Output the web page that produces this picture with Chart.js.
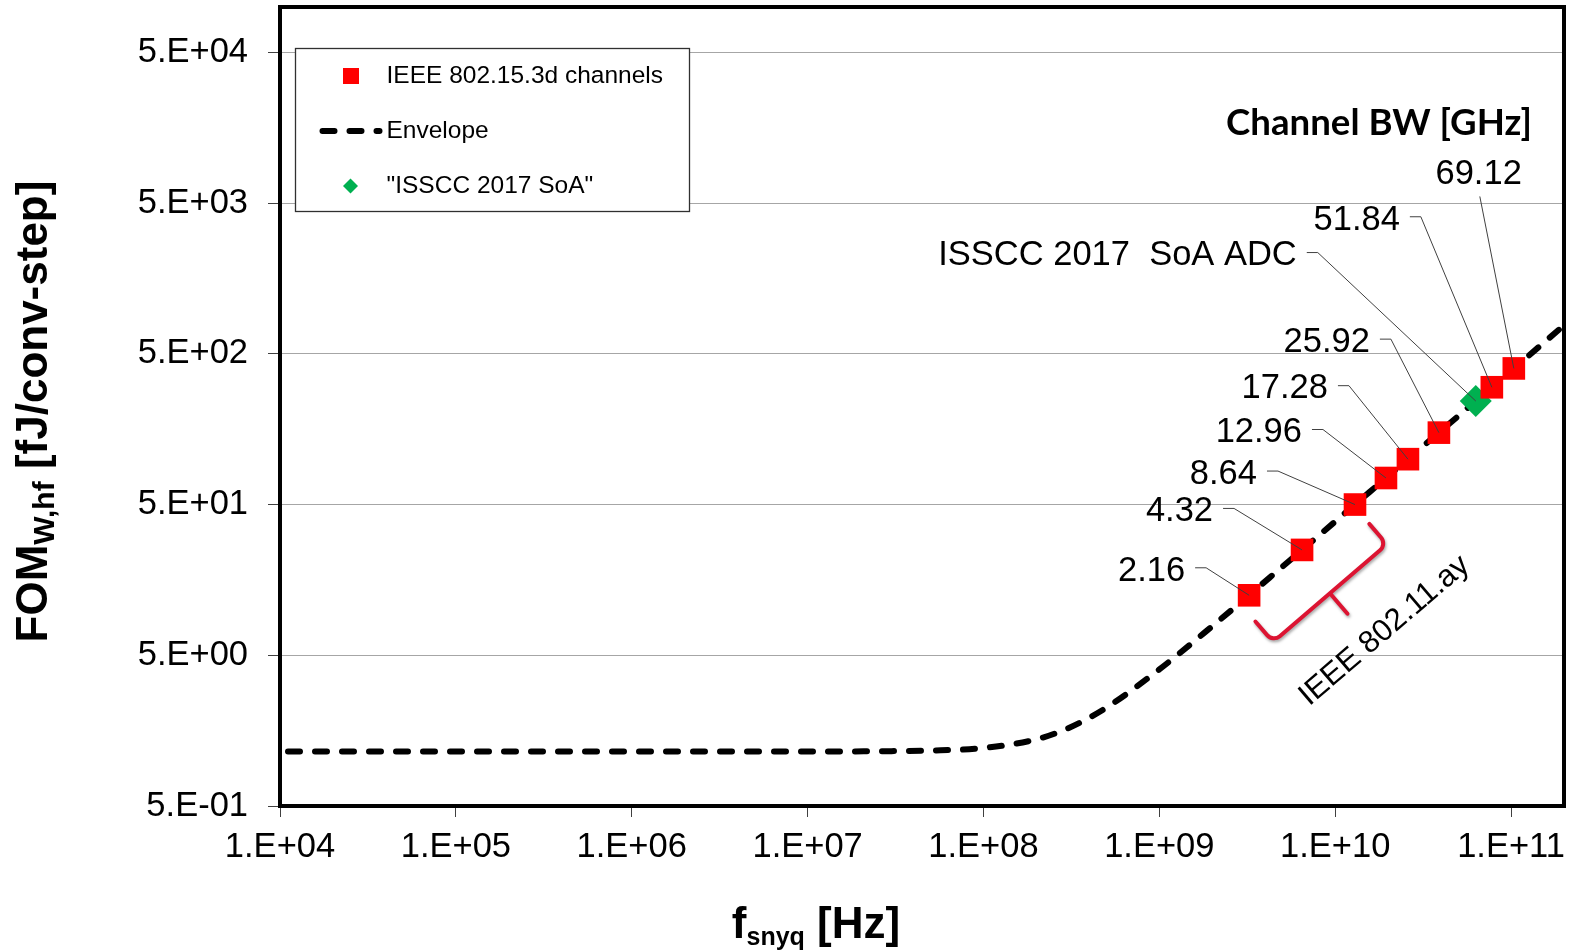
<!DOCTYPE html>
<html>
<head>
<meta charset="utf-8">
<script src="https://cdn.jsdelivr.net/npm/chart.js@4.4.1/dist/chart.umd.min.js"></script>
<style>
  html, body { margin: 0; padding: 0; background: #ffffff; }
  canvas { display: block; }
</style>
</head>
<body>
<canvas id="fom" width="1571" height="951" style="width:1571px;height:951px"></canvas>
<script>
// Envelope of the ADC figure of merit versus Nyquist frequency
const envelopeFreq = [1e4, 1e7, 3e7, 5e7, 1e8, 2e8, 3e8, 5e8, 1e9, 2e9, 5e9, 1e10, 2e10, 5e10, 1e11, 2e11];
const envelopeFom  = [1.15, 1.15, 1.156, 1.166, 1.213, 1.385, 1.632, 2.246, 4.03, 7.8, 19.3, 38.6, 77.2, 193, 386, 772];

// IEEE 802.15.3d channels (label = channel bandwidth in GHz)
const channelBW   = ['2.16', '4.32', '8.64', '12.96', '17.28', '25.92', '51.84', '69.12'];
const channelFreq = [3.24e9, 6.48e9, 1.296e10, 1.944e10, 2.592e10, 3.888e10, 7.776e10, 1.0368e11];
const channelFom  = [12.5, 25, 50, 75, 100, 150, 300, 400];

// ISSCC 2017 state-of-the-art ADC
const soaFreq = [6.3e10];
const soaFom  = [243];

// Axis ticks
const xTickValues = [1e4, 1e5, 1e6, 1e7, 1e8, 1e9, 1e10, 1e11];
const xTickLabels = ['1.E+04', '1.E+05', '1.E+06', '1.E+07', '1.E+08', '1.E+09', '1.E+10', '1.E+11'];
const yTickValues = [0.5, 5, 50, 500, 5000, 50000];
const yTickLabels = ['5.E-01', '5.E+00', '5.E+01', '5.E+02', '5.E+03', '5.E+04'];

// Callout placement in pixels relative to each marker:
// t = right end / vertical centre of the text, l = optional free leader start
const channelCallouts = [
  { t: [-64, -27] }, { t: [-89, -41] }, { t: [-98, -33] }, { t: [-84, -48] },
  { t: [-80, -73] }, { t: [-69, -93] }, { t: [-92, -170] }, { t: [8, -197], l: [-34, -172] }
];
const soaCallout = { t: [-179, -148] };

const FONT = '"Liberation Sans", Arial, Helvetica, sans-serif';
const LABEL_SIZE = 34.5;
const ENVELOPE_DASH = [12, 15];

function textRightAt(ctx, text, xr, cy, size) {
  ctx.font = size + 'px ' + FONT;
  ctx.textAlign = 'right';
  ctx.textBaseline = 'alphabetic';
  ctx.fillText(text, xr, cy + size * 0.355);
}

function drawCallout(ctx, px, py, text, c) {
  const xr = px + c.t[0], cy = py + c.t[1];
  ctx.fillStyle = '#000';
  textRightAt(ctx, text, xr, cy, LABEL_SIZE);
  ctx.strokeStyle = '#404040';
  ctx.lineWidth = 1;
  ctx.beginPath();
  if (c.l) {
    ctx.moveTo(px + c.l[0], py + c.l[1]);
  } else {
    ctx.moveTo(xr + 10, cy - 0.5);
    ctx.lineTo(xr + 21, cy - 0.5);
  }
  ctx.lineTo(px, py);
  ctx.stroke();
}

// Mixed-size title pieces: [text, size, baselineShift]
function drawPieces(ctx, pieces, startX, baseY) {
  let xPos = startX;
  ctx.textAlign = 'left';
  ctx.textBaseline = 'alphabetic';
  for (const [t, s, dy] of pieces) {
    ctx.font = 'bold ' + s + 'px ' + FONT;
    ctx.fillText(t, xPos, baseY + dy);
    xPos += ctx.measureText(t).width;
  }
}
function piecesWidth(ctx, pieces) {
  let w = 0;
  for (const [t, s] of pieces) {
    ctx.font = 'bold ' + s + 'px ' + FONT;
    w += ctx.measureText(t).width;
  }
  return w;
}

function noScalePadding(s) {
  s.paddingTop = 0; s.paddingBottom = 0; s.paddingLeft = 0; s.paddingRight = 0;
}

const overlay = {
  id: 'overlay',
  afterDatasetsDraw(chart) {
    const { ctx, scales: { x, y }, chartArea: a } = chart;
    ctx.save();

    // Brace grouping the IEEE 802.11ay channels
    const p0 = { x: x.getPixelForValue(channelFreq[0]), y: y.getPixelForValue(channelFom[0]) };
    const p2 = { x: x.getPixelForValue(channelFreq[2]), y: y.getPixelForValue(channelFom[2]) };
    const dx = p2.x - p0.x, dy = p2.y - p0.y, len = Math.hypot(dx, dy);
    const ux = dx / len, uy = dy / len, nx = -uy, ny = ux;
    const mx = (p0.x + p2.x) / 2 + nx * 51 - ux * 7;
    const my = (p0.y + p2.y) / 2 + ny * 51 - uy * 7;
    ctx.save();
    ctx.translate(mx, my);
    ctx.rotate(Math.atan2(uy, ux));
    ctx.strokeStyle = '#DC1432';
    ctx.lineWidth = 4;
    ctx.lineCap = 'round';
    ctx.lineJoin = 'round';
    ctx.shadowColor = 'rgba(0,0,0,0.35)';
    ctx.shadowBlur = 3;
    ctx.shadowOffsetX = 1;
    ctx.shadowOffsetY = 2;
    ctx.beginPath();
    ctx.moveTo(-75, -27);
    ctx.arcTo(-75, 0, 0, 0, 9);
    ctx.lineTo(0, 0);
    ctx.arcTo(75, 0, 75, -27, 9);
    ctx.lineTo(75, -27);
    ctx.moveTo(0, 0);
    ctx.lineTo(0, 27);
    ctx.stroke();
    ctx.shadowColor = 'transparent';
    ctx.fillStyle = '#000';
    ctx.font = '31px ' + FONT;
    ctx.textAlign = 'center';
    ctx.textBaseline = 'middle';
    ctx.fillText('IEEE 802.11.ay', 17, 64);
    ctx.restore();

    // Channel bandwidth callouts
    channelFreq.forEach((f, i) => {
      drawCallout(ctx, x.getPixelForValue(f), y.getPixelForValue(channelFom[i]), channelBW[i], channelCallouts[i]);
    });
    drawCallout(ctx, x.getPixelForValue(soaFreq[0]), y.getPixelForValue(soaFom[0]), 'ISSCC 2017  SoA ADC', soaCallout);

    // Callout group heading
    const head = 'Channel BW [GHz]';
    ctx.font = 'bold 34px Lato, "Open Sans", sans-serif';
    const hw = ctx.measureText(head).width;
    const hs = 34 * 306 / hw;
    ctx.font = 'bold ' + hs + 'px Lato, "Open Sans", sans-serif';
    ctx.fillStyle = '#000';
    ctx.textAlign = 'right';
    ctx.textBaseline = 'alphabetic';
    ctx.fillText(head, a.right - 32, a.top + 128);

    ctx.restore();
  },
  afterDraw(chart) {
    const { ctx, chartArea: a } = chart;
    ctx.save();

    // Plot frame
    ctx.strokeStyle = '#000';
    ctx.lineWidth = 4;
    ctx.strokeRect(a.left, a.top, a.right - a.left, a.bottom - a.top);

    // Legend
    const lx = a.left + 15.5, ly = a.top + 41.5;
    ctx.fillStyle = '#fff';
    ctx.fillRect(lx, ly, 394, 163);
    ctx.strokeStyle = '#303030';
    ctx.lineWidth = 1.3;
    ctx.strokeRect(lx, ly, 394, 163);

    const tx = lx + 91;
    ctx.fillStyle = '#FF0000';
    ctx.fillRect(lx + 47.5, ly + 19.5, 16, 16);
    ctx.fillStyle = '#000';
    ctx.font = '24.5px ' + FONT;
    ctx.textAlign = 'left';
    ctx.textBaseline = 'middle';
    ctx.fillText('IEEE 802.15.3d channels', tx, ly + 27.5);

    ctx.strokeStyle = '#000';
    ctx.lineWidth = 6;
    ctx.lineCap = 'round';
    ctx.setLineDash(ENVELOPE_DASH);
    ctx.beginPath();
    ctx.moveTo(lx + 27, ly + 82.5);
    ctx.lineTo(lx + 84, ly + 82.5);
    ctx.stroke();
    ctx.setLineDash([]);
    ctx.fillText('Envelope', tx, ly + 82.5);

    ctx.fillStyle = '#00B050';
    const dxc = lx + 55, dyc = ly + 137.5;
    ctx.beginPath();
    ctx.moveTo(dxc - 7.5, dyc);
    ctx.lineTo(dxc, dyc - 7.5);
    ctx.lineTo(dxc + 7.5, dyc);
    ctx.lineTo(dxc, dyc + 7.5);
    ctx.closePath();
    ctx.fill();
    ctx.fillStyle = '#000';
    ctx.fillText('"ISSCC 2017 SoA"', tx, ly + 137.5);

    // Axis titles
    const xt = [['f', 44, 0], ['snyq', 25, 7], [' [Hz]', 44, 0]];
    drawPieces(ctx, xt, 816 - piecesWidth(ctx, xt) / 2, 938);

    const yt = [['FOM', 44, 0], ['W,hf', 30, 7], [' [fJ/conv-step]', 44, 0]];
    ctx.save();
    ctx.translate(47, (a.top + a.bottom) / 2 + 5);
    ctx.rotate(-Math.PI / 2);
    drawPieces(ctx, yt, -piecesWidth(ctx, yt) / 2, 0);
    ctx.restore();

    ctx.restore();
  }
};

new Chart(document.getElementById('fom'), {
  type: 'scatter',
  data: {
    datasets: [
      {
        label: 'IEEE 802.15.3d channels',
        data: channelFreq.map((f, i) => ({ x: f, y: channelFom[i] })),
        pointStyle: 'rect',
        pointRadius: 16,
        pointBackgroundColor: '#FF0000',
        pointBorderWidth: 0,
        borderWidth: 0
      },
      {
        label: '"ISSCC 2017 SoA"',
        data: soaFreq.map((f, i) => ({ x: f, y: soaFom[i] })),
        pointStyle: 'rectRot',
        pointRadius: 16,
        pointBackgroundColor: '#00B050',
        pointBorderWidth: 0,
        borderWidth: 0
      },
      {
        label: 'Envelope',
        data: envelopeFreq.map((f, i) => ({ x: f, y: envelopeFom[i] })),
        showLine: true,
        cubicInterpolationMode: 'monotone',
        borderColor: '#000',
        borderWidth: 6,
        borderDash: ENVELOPE_DASH,
        borderDashOffset: -8,
        borderCapStyle: 'round',
        pointRadius: 0,
        fill: false
      }
    ]
  },
  options: {
    responsive: false,
    animation: false,
    devicePixelRatio: 1,
    layout: { autoPadding: false, padding: { left: 0, right: 7, top: 7, bottom: 0 } },
    plugins: { legend: { display: false }, tooltip: { enabled: false } },
    scales: {
      x: {
        type: 'logarithmic',
        min: 1e4,
        max: 2e11,
        afterFit: s => { s.height = 145; noScalePadding(s); },
        afterBuildTicks: s => { s.ticks = xTickValues.map(v => ({ value: v })); },
        grid: { drawOnChartArea: false, drawTicks: true, tickLength: 11, color: '#404040', lineWidth: 1 },
        border: { display: false },
        ticks: {
          autoSkip: false, maxRotation: 0, minRotation: 0, padding: 10,
          color: '#000', font: { family: FONT, size: LABEL_SIZE },
          callback: (v, i) => xTickLabels[i]
        }
      },
      y: {
        type: 'logarithmic',
        min: 0.5,
        max: 1e5,
        afterFit: s => { s.width = 280; noScalePadding(s); },
        afterBuildTicks: s => { s.ticks = yTickValues.map(v => ({ value: v })); },
        grid: { drawOnChartArea: true, drawTicks: true, tickLength: 12, color: '#A6A6A6', tickColor: '#404040', lineWidth: 1 },
        border: { display: false },
        ticks: {
          autoSkip: false, padding: 20,
          color: '#000', font: { family: FONT, size: LABEL_SIZE },
          callback: (v, i) => yTickLabels[i]
        }
      }
    }
  },
  plugins: [overlay]
});
</script>
</body>
</html>
